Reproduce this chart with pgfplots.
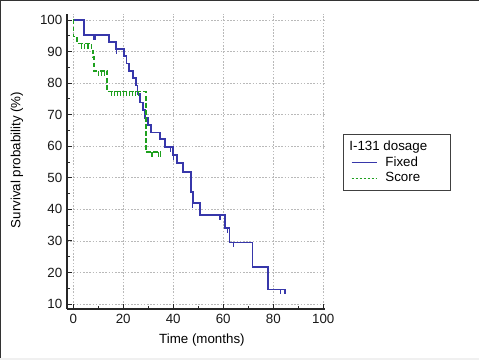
\documentclass[border=0pt]{standalone}
\usepackage{fontspec}
\setmainfont{Liberation Sans}
\usepackage{pgfplots}
\pgfplotsset{compat=1.18}
\definecolor{kmblue}{RGB}{55,55,170}
\definecolor{kmgreen}{RGB}{30,160,30}
\begin{document}
\begin{tikzpicture}[x=1pt,y=1pt]
\useasboundingbox (0,0) rectangle (359.25,270);
\fill[white] (0,0) rectangle (359.25,270);
\begin{axis}[
  at={(50.25pt,38.25pt)}, anchor=south west,
  scale only axis, width=193.5pt, height=221.25pt,
  xmin=-2.5, xmax=100.7, ymin=8.42, ymax=101.9,
  axis lines=left,
  axis line style={-, black!85, line width=0.9pt},
  xtick={0,20,...,100}, ytick={10,20,...,100},
  minor x tick num=1, minor y tick num=1,
  tick align=inside,
  major tick length=4pt, minor tick length=2.2pt,
  tick style={black!85, line width=0.7pt},
  grid=major,
  grid style={gray!55, line width=0.5pt, dash pattern=on 1.2pt off 1.2pt},
  tick label style={font=\fontsize{10}{12}\selectfont, black!90},
  /pgf/number format/assume math mode=true,
  label style={font=\fontsize{10}{12}\selectfont},
  xlabel={Time (months)},
  ylabel={Survival probability (\%)},
  xlabel style={at={(axis description cs:0.523,-0.105)}, anchor=center},
  ylabel style={at={(axis description cs:-0.194,0.505)}, anchor=center},
  legend cell align=left,
  legend style={at={(axis description cs:1.068,0.593)}, anchor=north west,
    draw=black!75, line width=0.9pt, fill=white,
    font=\fontsize{10}{12}\selectfont,
    nodes={inner sep=1pt, text height=7.5pt, text depth=2.3pt},
    inner xsep=6pt, inner ysep=3.3pt, row sep=0pt,
    /tikz/every odd column/.append style={column sep=5.25pt}},
]
% Fixed (blue)
\addplot[const plot, kmblue, line width=1.2pt, forget plot] coordinates {
(0,100) (4.3,95.3) (14.2,93.1) (17.0,90.8) (20.3,88.5) (21.3,86.2) (22.3,83.9)
(24.0,81.6) (25.0,79.3) (25.7,76.6) (26.7,73.8) (28.0,71.5) (28.7,68.9)
(30.0,66.7) (31.0,64.4) (34.7,62.2) (36.7,59.8) (39.8,57.2) (41.6,54.6)
(43.8,51.9) (47.0,45.4) (48.0,42.1) (50.7,38.2) (60.7,34.0) (62.5,29.5)
(71.7,21.8) (78.0,14.6) (84.7,14.6)
};
% Fixed censored
\addplot[only marks, mark=|, mark size=1.875pt, kmblue, forget plot,
  mark options={yshift=-1.875pt, line width=0.8pt}] coordinates {
(8.3,95.3) (8.9,95.3) (17.3,90.8) (38.9,59.8) (40.2,57.2) (47.7,42.1)
(58.7,38.2) (61.6,34.0) (64.0,29.5) (83.0,14.6) (84.7,14.6)
};
% Score (green)
\addplot[const plot, kmgreen, line width=1.15pt, dash pattern=on 3.5pt off 1.8pt, forget plot] coordinates {
(0,100) (0.15,94.7) (1.6,92.5) (7.3,90.3) (8.0,88.2) (8.4,83.8) (13.6,77.4)
(29.0,58.1) (35.0,58.1)
};
% Score censored
\addplot[only marks, mark=|, mark size=1.875pt, kmgreen, forget plot,
  mark options={yshift=-1.875pt, line width=0.8pt}] coordinates {
(3.3,92.5) (4.6,92.5) (5.9,92.5) (10.0,83.8) (11.3,83.8) (12.5,83.8)
(15.2,77.4) (16.4,77.4) (17.6,77.4) (18.8,77.4) (20.0,77.4) (21.2,77.4)
(22.4,77.4) (23.6,77.4) (24.8,77.4) (26.2,77.4)
(31.5,58.1) (34.0,58.1) (35.0,58.1)
};
\addlegendimage{legend image code/.code={}}
\addlegendentry{\hspace*{-27pt}I-131 dosage\makebox[10.5pt]{}}
\addlegendimage{legend image code/.code={\draw[kmblue, line width=0.7pt] (0pt,0pt) -- (18.75pt,0pt);}}
\addlegendentry{Fixed}
\addlegendimage{legend image code/.code={\draw[kmgreen, line width=0.7pt, dash pattern=on 2pt off 1pt] (0pt,0pt) -- (18.75pt,0pt);}}
\addlegendentry{Score}
\end{axis}
\draw[black!80, line width=1.5pt] (0,0) -- (0,270) -- (359.25,270);
\fill[gray!12] (0,0) rectangle (359.25,1.5);
\end{tikzpicture}
\end{document}
